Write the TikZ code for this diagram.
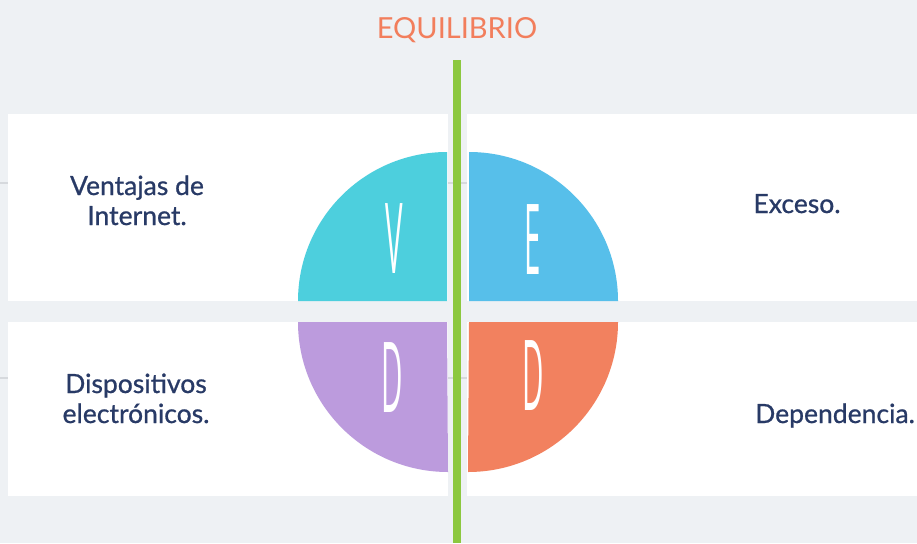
\documentclass[tikz,border=0pt]{standalone}
\usepackage{fontspec}
\setmainfont{Lato}
\newfontfamily\medfont{Lato}[FakeBold=0.8]
\newfontfamily\letterfont{Open Sans}
\definecolor{bg}{HTML}{EEF1F4}
\definecolor{faint}{HTML}{D6D9DD}
\definecolor{navy}{HTML}{283A66}
\definecolor{orangeT}{HTML}{F27E5C}
\definecolor{qteal}{HTML}{4DCFDD}
\definecolor{qblue}{HTML}{57BFEA}
\definecolor{qpurple}{HTML}{BC9BDD}
\definecolor{qorange}{HTML}{F2815F}
\definecolor{lineG}{HTML}{8CC83F}
\tikzset{
  label/.style={text=navy, font=\medfont\fontsize{26.5}{30}\selectfont, align=center, anchor=base, inner sep=0pt},
  letter/.style={text=white, font=\letterfont\fontsize{98}{98}\selectfont, inner sep=0pt},
}
\begin{document}
\begin{tikzpicture}[x=1pt,y=-1pt]
\useasboundingbox (0,0) rectangle (917,543);
\fill[bg] (0,0) rectangle (917,543);
\draw[faint, line width=2pt] (0,183) -- (917,183);
\draw[faint, line width=2pt] (0,378) -- (917,378);
\fill[white] (8,114) rectangle (448,301);
\fill[white] (8,322) rectangle (448,496);
\fill[white] (467,114) rectangle (917,301);
\fill[white] (467,322) rectangle (917,496);
\fill[qteal] (447,301) -- (298,301) arc[start angle=180, end angle=270, radius=149] -- cycle;
\fill[qblue] (469,301) -- (618,301) arc[start angle=0, end angle=-90, radius=149] -- cycle;
\fill[qpurple] (447,322) -- (298,322) arc[start angle=180, end angle=90, radius=150] -- cycle;
\fill[qorange] (469,322) -- (618,322) arc[start angle=0, end angle=90, radius=150] -- cycle;
\draw[lineG, line width=8pt] (457,60) -- (457,543);
\node[letter, anchor=base] (lv) at (394,273) {\scalebox{0.3}[1]{V}};
\node[letter, anchor=base] (le) at (533,274) {\scalebox{0.3}[1]{E}};
\node[letter, anchor=base] (ld1) at (392,412) {\scalebox{0.3}[1]{D}};
\node[letter, anchor=base] (ld2) at (533,410) {\scalebox{0.3}[1]{D}};
\node[label] (ventajas) at (137,225) {Ventajas de\\Internet.};
\node[label] (dispositivos) at (136,423) {Dispositivos\\electrónicos.};
\node[label] (exceso) at (797,213) {Exceso.};
\node[label] (dependencia) at (835,423) {Dependencia.};
\node[text=orangeT, font=\fontsize{29}{29}\selectfont, anchor=base, inner sep=0pt] (title) at (457,38) {EQUILIBRIO};
\end{tikzpicture}
\end{document}
